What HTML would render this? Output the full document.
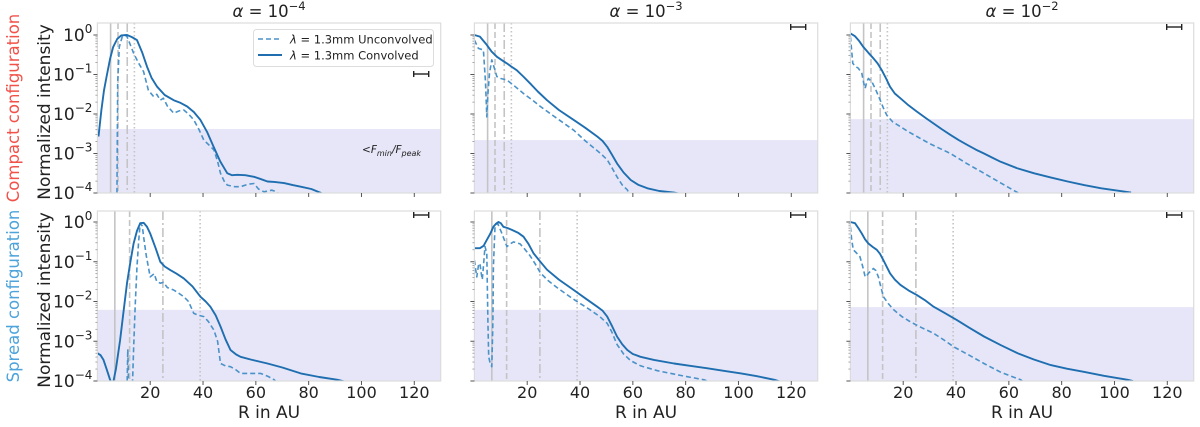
<!DOCTYPE html>
<html><head><meta charset="utf-8"><style>
body{margin:0;background:#fff;width:1200px;height:422px;overflow:hidden}
svg{font-family:"DejaVu Sans","Liberation Sans",sans-serif}
</style></head><body>
<svg id="chart" width="1200" height="422" viewBox="0 0 1200 422" xmlns="http://www.w3.org/2000/svg"></svg>
<script>
// ---- data (x = R in AU, v = log10 normalized intensity) ----
const xTicks = [20, 40, 60, 80, 100, 120];
const yTickExps = [0, -1, -2, -3, -4];
const colTitles = ["-4", "-3", "-2"];
const rowLabels = ["Compact configuration", "Spread configuration"];
const rowColors = ["#f0524a", "#4da3da"];
const shadeLevels = [[-2.38, -2.66, -2.13], [-2.21, -2.21, -2.14]];
const vlinesCompact = [5.0, 7.8, 11.3, 14.0];
const vlinesSpread = [6.6, 12.2, 24.8, 38.9];

const p00_sx = [0.4,1.5,2.5,3.5,4.8,6,7.5,9,11.2,13,15,17,18.8,20.5,22.6,25.5,28.9,31.5,34,36.5,39,41.5,44,46.5,49.2,51,53,56,59.3,62,64.4,67,70.7,74,77,81,84.7,88];
const p00_sv = [-2.57,-1.9,-1.4,-1.05,-0.6,-0.3,-0.1,-0.01,0,-0.05,-0.13,-0.45,-0.8,-1.08,-1.31,-1.52,-1.65,-1.72,-1.81,-1.95,-2.15,-2.45,-2.83,-3.2,-3.5,-3.55,-3.54,-3.55,-3.59,-3.65,-3.71,-3.72,-3.75,-3.8,-3.84,-3.9,-4.0,-4.15];
const p00_dx = [7.4,7.5,7.7,8.3,9.5,10.5,11.2,12.5,13.7,15.5,17.5,19.3,21.3,22.5,23.8,25,26.5,28.9,31,32.7,34.5,36.5,38.5,40.3,42.5,44.1,45.5,46.6,48,49.2,52,54.2,57,59.3,61,63.1,66,68,69];
const p00_dv = [-4.2,-3,-1.2,-0.3,-0.02,0,-0.04,-0.25,-0.46,-0.7,-0.93,-1.4,-1.56,-1.5,-1.65,-1.6,-1.8,-1.98,-1.92,-1.9,-2.0,-2.15,-2.4,-2.66,-2.8,-2.91,-3.2,-3.5,-3.7,-3.8,-3.84,-3.84,-3.78,-3.76,-3.9,-3.97,-3.93,-3.97,-4.1];

const p01_sx = [0,2.1,4.7,6.5,8.5,10.5,12.3,14,16,18.5,21,24,27.5,32,37.6,42,46.5,48.5,50.3,52,54,56.5,59.2,62,65.5,70,75.6,78];
const p01_sv = [0,-0.04,-0.25,-0.42,-0.55,-0.64,-0.72,-0.8,-0.89,-1.05,-1.22,-1.43,-1.65,-1.9,-2.15,-2.35,-2.57,-2.68,-2.83,-3.02,-3.25,-3.48,-3.67,-3.79,-3.88,-3.95,-3.99,-4.02];
const p01_dx = [0,1.5,3.4,4.2,4.7,5.1,5.7,6.6,7.4,8.5,10,12.3,15,18.6,22,25,30,37.6,42,47.8,50.3,52,54,56,57.9,58.5,59.5];
const p01_dv = [-0.13,-0.34,-0.38,-1.2,-2.07,-1.5,-0.97,-0.63,-0.8,-1.05,-1.1,-1.14,-1.28,-1.48,-1.65,-1.81,-2.05,-2.41,-2.68,-3.0,-3.16,-3.35,-3.59,-3.8,-3.92,-4.0,-4.1];

const p02_sx = [0,1.75,3.3,4.9,6.8,8.7,10.3,11.9,13.5,15,16.8,18.9,22,25.2,28.5,31.5,34.5,37.9,41,44.2,47.5,50.6,53.5,56.9,63,69.6,76,82.3,88.5,95,101,106.3];
const p02_sv = [0.04,-0.03,-0.15,-0.3,-0.45,-0.59,-0.72,-0.89,-1.1,-1.31,-1.48,-1.6,-1.78,-1.94,-2.1,-2.24,-2.38,-2.53,-2.66,-2.78,-2.9,-3.0,-3.1,-3.21,-3.37,-3.5,-3.61,-3.71,-3.8,-3.88,-3.94,-3.99];
const p02_dx = [0,0.9,2,3,4.3,5.0,5.6,6.2,6.8,8.1,9.7,11.3,12.5,13.8,16,18.9,22,25.2,30,37.9,44,50.6,57,63.3,65];
const p02_dv = [-0.04,-0.72,-0.8,-0.84,-0.97,-1.2,-1.35,-1.18,-1.1,-1.18,-1.4,-1.65,-1.85,-2.03,-2.2,-2.32,-2.45,-2.57,-2.75,-3.0,-3.25,-3.5,-3.75,-3.99,-4.1];

const p10_sx = [0,1.2,2.3,3.5,4.8,5.8,7,8.6,10,11.2,12.5,13.7,15,16.2,17.5,18.8,20,22,23.8,25.5,27.6,30,32.7,36,39,41,42.8,44.8,46.6,48.5,50.4,52.5,54.2,58,64.4,70,77,84,91,94];
const p10_sv = [-3.3,-3.35,-3.47,-3.7,-3.97,-4.1,-3.7,-2.97,-2.2,-1.54,-1.0,-0.54,-0.22,-0.03,-0.02,-0.12,-0.29,-0.65,-1.0,-1.12,-1.21,-1.3,-1.42,-1.62,-1.88,-2.0,-2.13,-2.35,-2.63,-2.95,-3.22,-3.33,-3.39,-3.46,-3.56,-3.66,-3.81,-3.9,-3.97,-4.02];
const p10_dx = [11.2,11.5,11.8,12.2,13.2,13.7,14.3,15,15.6,16.2,17,17.5,18.5,20,21.5,22.5,23.8,25,26.5,28.9,31,32.7,34.5,36.5,38.5,40.3,42,44.1,45.5,46.6,48.5,50.4,52.5,54.2,58,61.8,64.5,67,68];
const p10_dv = [-4.2,-3.2,-4.2,-4.2,-4.2,-3.2,-2.1,-1.12,-0.5,-0.03,-0.1,-0.37,-0.85,-1.38,-1.3,-1.5,-1.54,-1.52,-1.65,-1.71,-1.8,-1.88,-2.0,-2.3,-2.35,-2.38,-2.5,-2.72,-3.0,-3.56,-3.62,-3.64,-3.72,-3.81,-3.81,-3.81,-3.88,-3.97,-4.05];

const p11_sx = [0,2.1,3.5,4.7,6,7.2,8.2,9.1,10,11,12.5,14.2,16.5,18.6,20.5,22.4,25,27.5,32,37.6,42,46.5,48.5,50.3,52,54,56,57.9,60,62.9,68,75.6,82,88.3,95,101,107,113.6,116];
const p11_sv = [-0.66,-0.66,-0.6,-0.45,-0.3,-0.12,-0.04,0,-0.03,-0.12,-0.15,-0.2,-0.27,-0.37,-0.55,-0.79,-1.0,-1.2,-1.45,-1.71,-1.92,-2.13,-2.23,-2.38,-2.6,-2.88,-3.08,-3.22,-3.32,-3.39,-3.47,-3.56,-3.62,-3.68,-3.75,-3.81,-3.88,-3.97,-4.02];
const p11_dx = [0,0.5,0.9,1.5,2.1,2.6,3.0,3.4,4.0,4.7,5.1,5.4,6.0,6.6,7.0,7.2,7.8,8.8,10.4,12.3,13.5,14.8,17.3,19,21.1,23,25,28,31.3,37,44,47.5,50.3,52,54,56.5,59.2,63,69.3,78,87,89];
const p11_dv = [-0.96,-1.2,-1.38,-1.1,-1.04,-1.3,-1.45,-1.12,-0.62,-0.79,-2.5,-3.39,-3.56,-3.64,-2.5,-1.12,-0.12,-0.03,-0.29,-0.62,-0.55,-0.5,-0.55,-0.68,-0.85,-1.05,-1.28,-1.48,-1.65,-1.92,-2.22,-2.38,-2.55,-2.76,-3.08,-3.32,-3.49,-3.62,-3.74,-3.86,-3.97,-4.02];

const p12_sx = [0,1.75,3,4.3,5.5,6.8,8.5,10,11.2,12.5,13.8,15,16.8,18.9,22,25.2,28.5,31.5,36,40.4,45,50.6,57,63.3,69.5,75.9,82,88.6,96,105,107];
const p12_sv = [0,-0.03,-0.15,-0.29,-0.43,-0.54,-0.63,-0.7,-0.8,-0.96,-1.13,-1.29,-1.45,-1.58,-1.72,-1.84,-1.98,-2.13,-2.3,-2.47,-2.66,-2.88,-3.1,-3.3,-3.46,-3.6,-3.69,-3.77,-3.87,-3.97,-4.0];
const p12_dx = [0,0.5,1.1,2.3,3.6,4.6,5.6,6.2,6.8,8.7,9.6,10.6,11.5,12.5,14.3,16.4,19.5,22.7,27,31.5,35.5,39.1,45,50.6,57,64.5,66];
const p12_dv = [-0.12,-0.45,-0.7,-0.78,-0.87,-1.1,-1.38,-1.35,-1.29,-1.17,-1.22,-1.38,-1.63,-1.88,-2.05,-2.21,-2.38,-2.51,-2.66,-2.8,-2.97,-3.14,-3.35,-3.56,-3.78,-3.97,-4.05];

const solidX = [[p00_sx,p01_sx,p02_sx],[p10_sx,p11_sx,p12_sx]];
const solidV = [[p00_sv,p01_sv,p02_sv],[p10_sv,p11_sv,p12_sv]];
const dashX = [[p00_dx,p01_dx,p02_dx],[p10_dx,p11_dx,p12_dx]];
const dashV = [[p00_dv,p01_dv,p02_dv],[p10_dv,p11_dv,p12_dv]];

// ---- layout ----
const NS = "http://www.w3.org/2000/svg";
const svg = document.getElementById("chart");
const panelLeft = [97.4, 474.4, 850.4];
const panelW = 343.3;
const rowTop = [23, 211];
const rowZero = [35, 222];
const rowBottom = [193, 381];
const decade = [39.5, 39.75];
const xMax = 130;

function mk(tag, attrs, parent) {
  const e = document.createElementNS(NS, tag);
  for (const k in attrs) e.setAttribute(k, attrs[k]);
  (parent || svg).appendChild(e);
  return e;
}
function sx(c, v) { return panelLeft[c] + v / xMax * panelW; }
function sy(r, e) { return rowZero[r] - e * decade[r]; }

const defs = mk("defs", {});

for (let r = 0; r < 2; r++) {
  for (let c = 0; c < 3; c++) {
    const L = panelLeft[c], R = L + panelW, T = rowTop[r], B = rowBottom[r];
    const g = mk("g", {});
    
    
    const cp = mk("clipPath", { id: "cp" + r + c }, defs);
    mk("rect", { x: L, y: T, width: panelW, height: B - T }, cp);

    const sh = mk("rect", { x: L, y: sy(r, shadeLevels[r][c]), width: panelW, height: B - sy(r, shadeLevels[r][c]), fill: "#e6e6f8" }, g);
    
    

    const vl = r === 0 ? vlinesCompact : vlinesSpread;
    const dashes = ["none", "6,3", "9,3,2,3", "1.5,2.5"];
    vl.forEach((v, i) => {
      const ln = mk("line", { x1: sx(c, v), x2: sx(c, v), y1: T, y2: B, stroke: "#c4c4c4", "stroke-width": 1.6, "stroke-dasharray": dashes[i] }, g);
      
      
    });

    const cg = mk("g", { "clip-path": "url(#cp" + r + c + ")" }, g);
    const dpts = dashX[r][c].map((x, i) => sx(c, x).toFixed(1) + "," + sy(r, dashV[r][c][i]).toFixed(1)).join(" ");
    const dl = mk("polyline", { points: dpts, fill: "none", stroke: "#4a92c8", "stroke-width": 1.6, "stroke-dasharray": "5,3", "stroke-linejoin": "round" }, cg);
    
    
    const spts = solidX[r][c].map((x, i) => sx(c, x).toFixed(1) + "," + sy(r, solidV[r][c][i]).toFixed(1)).join(" ");
    const sl = mk("polyline", { points: spts, fill: "none", stroke: "#1f6eb0", "stroke-width": 1.9, "stroke-linejoin": "round" }, cg);
    
    

    const fr = mk("rect", { x: L, y: T, width: panelW, height: B - T, fill: "none", stroke: "#dcdcdc", "stroke-width": 1.2 }, g);
    
    

    const by = (r === 0 && c === 0) ? 74 : T + 4;
    const bx1 = R - 27, bx2 = R - 12;
    const bar = mk("g", { stroke: "#222", "stroke-width": 1.4 }, g);
    
    
    mk("line", { x1: bx1, x2: bx2, y1: by, y2: by }, bar);
    mk("line", { x1: bx1, x2: bx1, y1: by - 3, y2: by + 3 }, bar);
    mk("line", { x1: bx2, x2: bx2, y1: by - 3, y2: by + 3 }, bar);

    xTicks.forEach(t => {
      const x = sx(c, t);
      mk("line", { x1: x, x2: x, y1: B, y2: B + 4, stroke: "#555", "stroke-width": 1 }, g);
      if (r === 1) {
        const tx = mk("text", { x: x, y: B + 17, "text-anchor": "middle", "font-size": 16, fill: "#222" }, g);
        tx.textContent = t;
        
        
      }
    });
    yTickExps.forEach(e => {
      const y = sy(r, e);
      mk("line", { x1: L - 4, x2: L, y1: y, y2: y, stroke: "#555", "stroke-width": 1 }, g);
      if (e > -4) for (let m = 2; m <= 9; m++) {
        const ym = sy(r, e - 1 + Math.log10(m));
        mk("line", { x1: L - 2, x2: L, y1: ym, y2: ym, stroke: "#888", "stroke-width": 0.7 }, g);
      }
      if (c === 0) {
        const tx = mk("text", { x: L - 5, y: y + 6, "text-anchor": "end", "font-size": 17, fill: "#222" }, g);
        
        
        const base = mk("tspan", {}, tx); base.textContent = "10";
        const sup = mk("tspan", { dy: -8, "font-size": 12 }, tx);
        sup.textContent = e === 0 ? "0" : "\u2212" + (-e);
      }
    });
    if (r === 1) {
      const xl = mk("text", { x: L + panelW / 2, y: 418, "text-anchor": "middle", "font-size": 17, fill: "#222" }, g);
      xl.textContent = "R in AU";
      
      
    }
    if (r === 0) {
      const tt = mk("text", { x: L + panelW / 2, y: 17, "text-anchor": "middle", "font-size": 16.5, fill: "#222" }, g);
      
      
      const a = mk("tspan", { "font-style": "italic" }, tt); a.textContent = "\u03b1";
      const b = mk("tspan", {}, tt); b.textContent = " = 10";
      const s = mk("tspan", { dy: -7, "font-size": 11.5 }, tt); s.textContent = "\u2212" + colTitles[c].slice(1);
    }
  }
  const yl = mk("text", { x: 0, y: 0, transform: "translate(50," + ((rowTop[r] + rowBottom[r]) / 2 + 4) + ") rotate(-90)", "text-anchor": "middle", "font-size": 17, fill: "#222" });
  yl.textContent = "Normalized intensity";
  
  
  const rl = mk("text", { x: 0, y: 0, transform: "translate(19," + ((rowTop[r] + rowBottom[r]) / 2) + ") rotate(-90)", "text-anchor": "middle", "font-size": 16.5, fill: rowColors[r] });
  rl.textContent = rowLabels[r];
  
  
}

const ann = mk("text", { x: 362, y: 153, "font-size": 10.5, fill: "#222" });


const a1 = mk("tspan", {}, ann); a1.textContent = "<";
const a2 = mk("tspan", { "font-style": "italic" }, ann); a2.textContent = "F";
const a3 = mk("tspan", { "font-style": "italic", "font-size": 8, dy: 3 }, ann); a3.textContent = "min";
const a4 = mk("tspan", { "font-style": "italic", dy: -3 }, ann); a4.textContent = "/F";
const a5 = mk("tspan", { "font-style": "italic", "font-size": 8, dy: 3 }, ann); a5.textContent = "peak";

const lg = mk("g", {});


mk("rect", { x: 253.5, y: 29.5, width: 180, height: 37, rx: 3, fill: "#fff", stroke: "#dddddd" }, lg);
const le1 = mk("g", {}, lg);


mk("line", { x1: 258, x2: 282, y1: 39, y2: 39, stroke: "#4a92c8", "stroke-width": 1.6, "stroke-dasharray": "5,3" }, le1);
const t1 = mk("text", { x: 290, y: 43.5, "font-size": 11.5, fill: "#222" }, le1);
const t1a = mk("tspan", { "font-style": "italic" }, t1); t1a.textContent = "\u03bb";
const t1b = mk("tspan", {}, t1); t1b.textContent = " = 1.3mm Unconvolved";
const le2 = mk("g", {}, lg);


mk("line", { x1: 258, x2: 282, y1: 55, y2: 55, stroke: "#1f6eb0", "stroke-width": 1.9 }, le2);
const t2 = mk("text", { x: 290, y: 59.5, "font-size": 11.5, fill: "#222" }, le2);
const t2a = mk("tspan", { "font-style": "italic" }, t2); t2a.textContent = "\u03bb";
const t2b = mk("tspan", {}, t2); t2b.textContent = " = 1.3mm Convolved";
</script>
</body></html>
